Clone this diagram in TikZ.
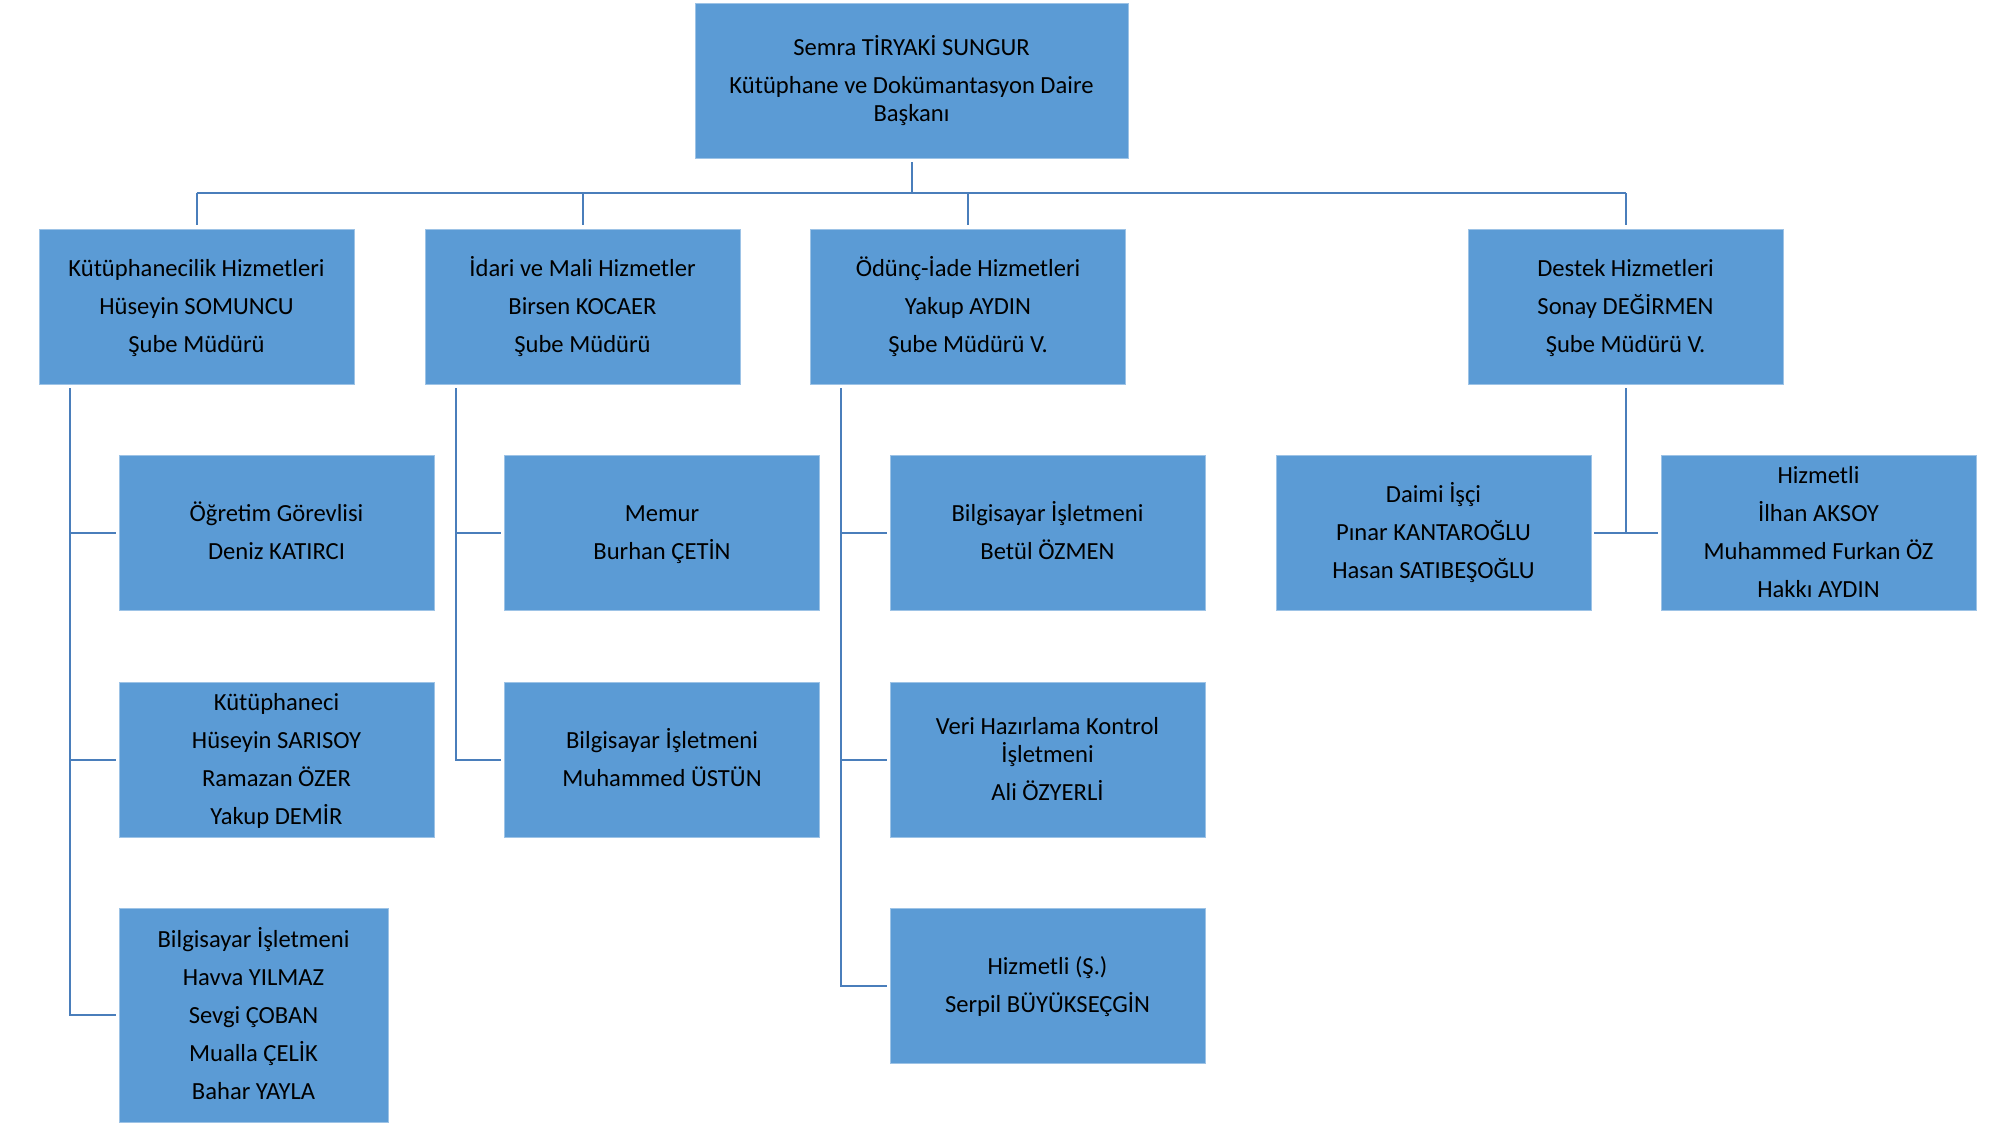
\documentclass[tikz,border=0pt]{standalone}
\usepackage{fontspec}
\setmainfont{Carlito}
\definecolor{boxblue}{HTML}{5B9BD5}
\definecolor{lineblue}{HTML}{4A7EBB}
\newcommand\sfirst{\rule[-3.5pt]{0pt}{15pt}}
\newcommand\slast{\rule[-3.5pt]{0pt}{13.5pt}}
\begin{document}
\begin{tikzpicture}[x=0.5pt,y=-0.5pt,
  box/.style={fill=boxblue, draw=boxblue!60!white, line width=0.3pt, inner sep=0pt,
    minimum width=157.5pt, minimum height=77.5pt, align=center,
    font=\fontsize{12.3}{14}\selectfont, text=black},
  conn/.style={draw=lineblue, line width=1pt}]
\useasboundingbox (0,0) rectangle (2000,1125);
% top
\node[box, minimum width=216.5pt] (top) at (911.5,80.5) {\sfirst Semra TİRYAKİ SUNGUR\\[5pt]Kütüphane ve Dokümantasyon Daire\\Başkanı\slast};
% level 1
\node[box] (kh) at (196.5,306.5) {\sfirst Kütüphanecilik Hizmetleri\\[5pt]Hüseyin SOMUNCU\\[5pt]Şube Müdürü\slast};
\node[box] (im) at (582.5,306.5) {\sfirst İdari ve Mali Hizmetler\\[5pt]Birsen KOCAER\\[5pt]Şube Müdürü\slast};
\node[box] (oi) at (968,306.5) {\sfirst Ödünç-İade Hizmetleri\\[5pt]Yakup AYDIN\\[5pt]Şube Müdürü V.\slast};
\node[box] (dh) at (1625.5,306.5) {\sfirst Destek Hizmetleri\\[5pt]Sonay DEĞİRMEN\\[5pt]Şube Müdürü V.\slast};
% column 1
\node[box] (c11) at (276.5,532.5) {\sfirst Öğretim Görevlisi\\[5pt]Deniz KATIRCI\slast};
\node[box] (c12) at (276.5,759.5) {\sfirst Kütüphaneci\\[5pt]Hüseyin SARISOY\\[5pt]Ramazan ÖZER\\[5pt]Yakup DEMİR\slast};
\node[box, minimum width=134.5pt, minimum height=107pt] (c13) at (253.5,1015) {\sfirst Bilgisayar İşletmeni\\[5pt]Havva YILMAZ\\[5pt]Sevgi ÇOBAN\\[5pt]Mualla ÇELİK\\[5pt]Bahar YAYLA\slast};
% column 2
\node[box] (c21) at (662,532.5) {\sfirst Memur\\[5pt]Burhan ÇETİN\slast};
\node[box] (c22) at (662,759.5) {\sfirst Bilgisayar İşletmeni\\[5pt]Muhammed ÜSTÜN\slast};
% column 3
\node[box] (c31) at (1047.5,532.5) {\sfirst Bilgisayar İşletmeni\\[5pt]Betül ÖZMEN\slast};
\node[box] (c32) at (1047.5,759.5) {\sfirst Veri Hazırlama Kontrol\\İşletmeni\\[5pt]Ali ÖZYERLİ\slast};
\node[box] (c33) at (1047.5,985.5) {\sfirst Hizmetli (Ş.)\\[5pt]Serpil BÜYÜKSEÇGİN\slast};
% destek children
\node[box] (d1) at (1433.5,532.5) {\sfirst Daimi İşçi\\[5pt]Pınar KANTAROĞLU\\[5pt]Hasan SATIBEŞOĞLU\slast};
\node[box] (d2) at (1818.5,532.5) {\sfirst Hizmetli\\[5pt]İlhan AKSOY\\[5pt]Muhammed Furkan ÖZ\\[5pt]Hakkı AYDIN\slast};
% bus
\coordinate (bus) at (0,193);
\draw[conn] ([yshift=-2pt]top.south) -- (top.south |- bus);
\draw[conn] (kh.north |- bus) -- (dh.north |- bus);
\foreach \n in {kh,im,oi,dh} \draw[conn] (\n.north |- bus) -- ([yshift=2pt]\n.north);
% column 1 connectors
\coordinate (v1) at ([xshift=15.5pt,yshift=-2pt]kh.south west);
\draw[conn] (v1) |- ([xshift=-1.5pt]c13.west);
\draw[conn] (v1 |- c11.west) -- ([xshift=-1.5pt]c11.west);
\draw[conn] (v1 |- c12.west) -- ([xshift=-1.5pt]c12.west);
% column 2 connectors
\coordinate (v2) at ([xshift=15.5pt,yshift=-2pt]im.south west);
\draw[conn] (v2) |- ([xshift=-1.5pt]c22.west);
\draw[conn] (v2 |- c21.west) -- ([xshift=-1.5pt]c21.west);
% column 3 connectors
\coordinate (v3) at ([xshift=15.5pt,yshift=-2pt]oi.south west);
\draw[conn] (v3) |- ([xshift=-1.5pt]c33.west);
\draw[conn] (v3 |- c31.west) -- ([xshift=-1.5pt]c31.west);
\draw[conn] (v3 |- c32.west) -- ([xshift=-1.5pt]c32.west);
% destek connectors
\draw[conn] ([yshift=-2pt]dh.south) -- (dh.south |- d1.east);
\draw[conn] ([xshift=1.5pt]d1.east) -- ([xshift=-1.5pt]d2.west);
\end{tikzpicture}
\end{document}
